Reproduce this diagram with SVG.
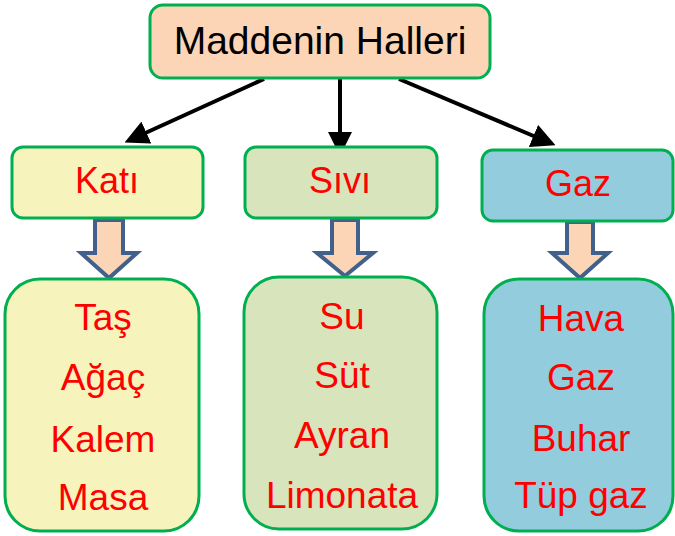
<svg xmlns="http://www.w3.org/2000/svg" width="675" height="536" viewBox="0 0 675 536">
<style>
.box{stroke:#00B050;stroke-width:3}
.t{font-family:"Liberation Sans",Arial,sans-serif;font-size:36px;text-anchor:middle}
.l{font-size:37px}
.red{fill:#FF0000}
.blk{fill:#000000}
.conn{stroke:#000;stroke-width:4;fill:none}
.barrow{fill:#FBD5B5;stroke:#41618C;stroke-width:4;stroke-linejoin:miter}
</style>
<defs>
<marker id="ah" markerWidth="6" markerHeight="6" refX="4.5" refY="3" orient="auto" markerUnits="strokeWidth">
<path d="M0,0 L6,3 L0,6 z" fill="#000"/>
</marker>
</defs>
<rect width="675" height="536" fill="#FFFFFF"/>
<g id="connectors">
<line class="conn" x1="264" y1="79" x2="130" y2="140" marker-end="url(#ah)"/>
<line class="conn" x1="340" y1="79" x2="340" y2="150" marker-end="url(#ah)"/>
<line class="conn" x1="399" y1="79" x2="550" y2="143" marker-end="url(#ah)"/>
<path class="barrow" d="M95,220 L123,220 L123,253 L137,253 L109,278 L81,253 L95,253 Z"/>
<path class="barrow" d="M332,220 L358,220 L358,253 L373,253 L345,276 L317,253 L332,253 Z"/>
<path class="barrow" d="M567,222 L593,222 L593,253 L608,253 L580,278 L552,253 L567,253 Z"/>
</g>
<g id="root">
<rect class="box" x="150" y="5" width="340" height="73" rx="13" fill="#FBD5B5"/>
<text class="t blk" x="320" y="54" style="font-size:39px">Maddenin Halleri</text>
</g>
<g id="kati">
<rect class="box" x="12" y="147" width="191" height="71" rx="11" fill="#F6F4BC"/>
<text class="t red" x="107" y="193">Katı</text>
</g>
<g id="sivi">
<rect class="box" x="245" y="147" width="192" height="71" rx="11" fill="#D8E4BC"/>
<text class="t red" x="340" y="193">Sıvı</text>
</g>
<g id="gaz">
<rect class="box" x="482" y="150" width="191" height="71" rx="11" fill="#93CDDD"/>
<text class="t red" x="578" y="196">Gaz</text>
</g>
<g id="kati-list">
<rect class="box" x="5" y="279" width="194" height="252" rx="35" fill="#F6F4BC"/>
<text class="t l red" x="103" y="330">Taş</text>
<text class="t l red" x="103" y="390">Ağaç</text>
<text class="t l red" x="103" y="452">Kalem</text>
<text class="t l red" x="103" y="510">Masa</text>
</g>
<g id="sivi-list">
<rect class="box" x="244" y="277" width="193" height="252" rx="35" fill="#D8E4BC"/>
<text class="t l red" x="342" y="329">Su</text>
<text class="t l red" x="342" y="388">Süt</text>
<text class="t l red" x="342" y="448">Ayran</text>
<text class="t l red" x="342" y="508">Limonata</text>
</g>
<g id="gaz-list">
<rect class="box" x="484" y="279" width="189" height="252" rx="35" fill="#93CDDD"/>
<text class="t l red" x="581" y="331">Hava</text>
<text class="t l red" x="581" y="390">Gaz</text>
<text class="t l red" x="581" y="451">Buhar</text>
<text class="t l red" x="581" y="508">Tüp gaz</text>
</g>
</svg>
